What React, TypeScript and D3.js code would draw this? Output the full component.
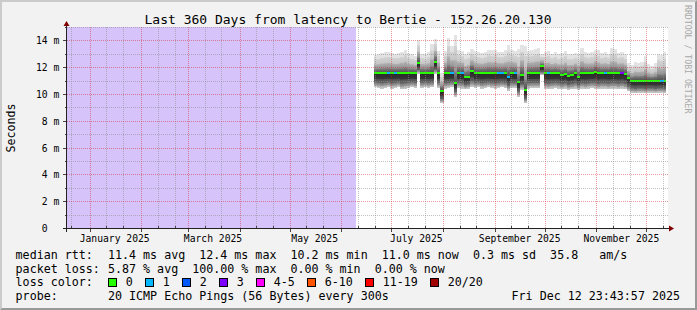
import React from 'react';
import * as d3 from 'd3';

// ---------- data ----------
const TITLE = 'Last 360 Days from latency to Bertie - 152.26.20.130';
const Y_LABEL = 'Seconds';
const WATERMARK = 'RRDTOOL / TOBI OETIKER';
const GRAPH_START = new Date(2024, 11, 17, 23, 43, 57);
const GRAPH_END = new Date(2025, 11, 12, 23, 43, 57);
const UNKNOWN_END = new Date(2025, 5, 9, 19, 0, 0);
const FIRST_SAMPLE = new Date(2025, 5, 20, 10, 0, 0);
const SAMPLE_DAYS = 2;

// median rtt (ms) per 2-day sample
const medianMs = [
  11.55, 11.55, 11.55, 11.55, 11.55, 11.55, 11.55, 11.55, 11.55, 11.55,
  11.55, 11.55, 11.55, 12.35, 11.55, 11.55, 11.55, 11.55, 12.4, 11.55,
  10.25, 11.55, 11.55, 11.55, 10.8, 11.55, 11.55, 11.25, 11.3, 11.75,
  11.55, 11.55, 11.55, 11.55, 11.55, 11.55, 11.55, 11.55, 11.55, 11.55,
  11.3, 11.55, 11.55, 10.86, 11.45, 10.3, 11.55, 11.55, 11.55, 11.55,
  12.06, 11.55, 11.55, 11.55, 11.55, 11.55, 11.45, 11.5, 11.38, 11.45,
  11.55, 11.3, 11.55, 11.55, 11.55, 11.55, 11.65, 11.55, 11.55, 11.55,
  11.55, 11.55, 11.55, 11.55, 11.55, 11.5, 11.2, 11.0, 11.0, 11.0,
  11.0, 11.0, 11.0, 11.0, 11.0, 11.0, 11.0, 11.0,
];
// slowest ping (ms) per sample
const maxMs = [
  12.9, 12.95, 13.05, 13.1, 13.15, 13.05, 13.0, 13.05, 13.15, 13.3,
  13.05, 12.95, 12.85, 14.0, 13.0, 12.95, 13.1, 13.75, 14.1, 13.2,
  11.6, 13.2, 14.15, 13.6, 14.4, 13.3, 13.2, 13.0, 13.1, 13.35,
  13.2, 13.1, 13.05, 13.15, 13.3, 13.25, 13.3, 13.15, 13.1, 13.25,
  13.65, 13.3, 13.2, 13.35, 13.65, 13.6, 13.2, 13.25, 13.35, 13.4,
  13.0, 13.1, 13.2, 13.0, 13.1, 12.95, 13.05, 13.2, 13.0, 12.95,
  13.05, 13.0, 13.4, 13.1, 13.05, 13.1, 13.3, 13.25, 13.05, 13.1,
  13.0, 13.4, 13.35, 13.05, 13.1, 12.95, 12.3, 12.2, 12.4, 12.35,
  12.4, 12.8, 12.25, 12.1, 12.3, 13.0, 12.9, 13.1,
];
// fastest ping (ms) per sample
const minMs = [
  10.5, 10.45, 10.4, 10.45, 10.5, 10.4, 10.45, 10.5, 10.35, 10.4,
  10.45, 10.5, 10.45, 11.5, 10.45, 10.5, 10.45, 10.5, 11.5, 10.45,
  9.3, 10.4, 10.45, 10.5, 9.8, 10.45, 10.4, 10.35, 10.4, 10.5,
  10.45, 10.5, 10.4, 10.45, 10.5, 10.45, 10.4, 10.45, 10.5, 10.45,
  10.25, 10.45, 10.45, 9.8, 10.3, 9.3, 10.4, 10.45, 10.45, 10.45,
  11.4, 10.4, 10.35, 10.4, 10.45, 10.4, 10.35, 10.4, 10.3, 10.35,
  10.4, 10.3, 10.4, 10.35, 10.4, 10.45, 10.4, 10.35, 10.4, 10.4,
  10.35, 10.4, 10.4, 10.35, 10.4, 10.35, 10.2, 10.1, 10.05, 10.1,
  10.1, 10.05, 10.1, 10.1, 10.05, 10.1, 10.1, 10.05,
];
// lost pings (of 20) per sample
const lostPings = [
  0, 0, 0, 0, 1, 0, 1, 0, 0, 0,
  0, 0, 0, 0, 0, 0, 0, 0, 0, 0,
  0, 0, 0, 1, 0, 0, 1, 0, 0, 0,
  0, 0, 0, 0, 0, 0, 0, 1, 1, 0,
  1, 0, 1, 0, 0, 0, 0, 0, 0, 0,
  0, 0, 1, 0, 0, 0, 0, 0, 0, 0,
  0, 0, 0, 0, 0, 0, 0, 0, 0, 1,
  0, 0, 0, 0, 3, 0, 0, 0, 0, 0,
  0, 0, 0, 0, 0, 0, 1, 0,
];

const yMajorTicks = [0, 2, 4, 6, 8, 10, 12, 14];
const yMinorTicks = [1, 3, 5, 7, 9, 11, 13, 15];
const xLabelMonths = [new Date(2025, 0, 1), new Date(2025, 2, 1), new Date(2025, 4, 1), new Date(2025, 6, 1), new Date(2025, 8, 1), new Date(2025, 10, 1)];
const xLabelTexts = ['January 2025', 'March 2025', 'May 2025', 'July 2025', 'September 2025', 'November 2025'];

const lossLabels = ['0', '1', '2', '3', '4-5', '6-10', '11-19', '20/20'];
const lossUpper = [0, 1, 2, 3, 5, 10, 19, 20];
const lossColors = ['#26ff00', '#00b8ff', '#0059ff', '#7e00ff', '#ff00ff', '#ff5500', '#ff0000', '#a10000'];

const rttLine = '11.4 ms avg  12.4 ms max  10.2 ms min  11.0 ms now  0.3 ms sd  35.8   am/s';
const lossLine = '5.87 % avg  100.00 % max  0.00 % min  0.00 % now';
const probeLine = '20 ICMP Echo Pings (56 Bytes) every 300s';
const dateLine = 'Fri Dec 12 23:43:57 2025';

// ---------- chart ----------
const FONT = "'DejaVu Sans Mono', monospace";
const PRE = { whiteSpace: 'pre' as const };

function lossColor(l: number) {
  const k = lossUpper.findIndex((u) => l <= u);
  return lossColors[k < 0 ? lossColors.length - 1 : k];
}

function T(props: any) {
  return <text xmlSpace="preserve" style={PRE} {...props} />;
}

export default function App() {
  const W = 697;
  const H = 310;
  const x = d3.scaleTime().domain([GRAPH_START, GRAPH_END]).range([66.3, 666.3]);
  const y = d3.scaleLinear().domain([0, 15]).range([228, 27]);
  const cx0 = 67;
  const cx1 = 668;
  const cy0 = 27;
  const cy1 = 228;

  const samples = medianMs.map((m, i) => {
    const t0 = d3.timeDay.offset(FIRST_SAMPLE, i * SAMPLE_DAYS);
    let t1 = d3.timeDay.offset(FIRST_SAMPLE, (i + 1) * SAMPLE_DAYS);
    if (t1 > GRAPH_END) t1 = GRAPH_END;
    return { t0, t1, med: m, hi: maxMs[i], lo: minMs[i], loss: lostPings[i] };
  });

  const days = d3.timeDay.range(d3.timeDay.ceil(GRAPH_START), GRAPH_END);
  const vMajor = days.filter((d) => d.getDate() === 1);
  const vMinor = days.filter((d) => d.getDate() === 11 || d.getDate() === 21);
  const px = (t: Date) => Math.round(x(t)) + 0.5;
  const py = (v: number) => Math.round(y(v)) + 0.5;

  const minorGrid = 'rgba(140,140,140,0.55)';
  const majorGrid = 'rgba(208,32,32,0.45)';

  const boxXs: number[] = [];
  let bx = 108;
  lossLabels.forEach((l) => {
    boxXs.push(bx);
    bx += 30 + 7 * l.length;
  });

  return (
    <svg width={W} height={H} style={{ position: 'fixed', left: 0, top: 0 }} xmlns="http://www.w3.org/2000/svg">
      <defs>
        <linearGradient id="smokeUp" x1="0" y1="0" x2="0" y2="1">
          <stop offset="0" stopColor="#e4e4e4" />
          <stop offset="0.22" stopColor="#e1e1e1" />
          <stop offset="0.24" stopColor="#d2d2d2" />
          <stop offset="0.5" stopColor="#c6c6c6" />
          <stop offset="0.55" stopColor="#adadad" />
          <stop offset="0.74" stopColor="#959595" />
          <stop offset="0.8" stopColor="#777777" />
          <stop offset="1" stopColor="#4e4e4e" />
        </linearGradient>
        <linearGradient id="smokeDown" x1="0" y1="0" x2="0" y2="1">
          <stop offset="0" stopColor="#2a2a2a" />
          <stop offset="0.36" stopColor="#363636" />
          <stop offset="0.42" stopColor="#525252" />
          <stop offset="0.62" stopColor="#626262" />
          <stop offset="0.68" stopColor="#808080" />
          <stop offset="0.82" stopColor="#989898" />
          <stop offset="0.86" stopColor="#b4b4b4" />
          <stop offset="1" stopColor="#c8c8c8" />
        </linearGradient>
      </defs>

      {/* background + frame */}
      <rect x={0} y={0} width={W} height={H} fill="#f2f2f2" />
      <polygon points={`0,0 ${W},0 ${W - 2},2 2,2 2,${H - 2} 0,${H}`} fill="#cbcbcb" />
      <polygon points={`${W},0 ${W},${H} 0,${H} 2,${H - 2} ${W - 2},${H - 2} ${W - 2},2`} fill="#999999" />

      {/* canvas */}
      <rect x={cx0} y={cy0} width={cx1 - cx0} height={cy1 - cy0 + 1} fill="#ffffff" />
      <rect x={cx0} y={cy0} width={x(UNKNOWN_END) - cx0} height={cy1 - cy0 + 1} fill="#d5c3fa" />

      {/* smoke */}
      <g shapeRendering="crispEdges">
        {samples.map((s, i) => (
          <g key={i}>
            <rect x={x(s.t0)} width={x(s.t1) - x(s.t0)} y={y(s.hi)} height={y(s.med) - y(s.hi)} fill="url(#smokeUp)" />
            <rect x={x(s.t0)} width={x(s.t1) - x(s.t0)} y={y(s.med)} height={y(s.lo) - y(s.med)} fill="url(#smokeDown)" />
          </g>
        ))}
        {samples.map((s, i) => (
          <rect key={'m' + i} x={x(s.t0)} width={x(s.t1) - x(s.t0)} y={y(s.med) - 1} height={2} fill={lossColor(s.loss)} />
        ))}
      </g>

      {/* grid */}
      <g strokeWidth={1} strokeDasharray="1 1">
        {yMinorTicks.map((v) => (
          <line key={'hy' + v} x1={cx0} x2={cx1} y1={py(v)} y2={py(v)} stroke={minorGrid} />
        ))}
        {vMinor.map((d, i) => (
          <line key={'vx' + i} x1={px(d)} x2={px(d)} y1={cy0} y2={cy1} stroke={minorGrid} />
        ))}
        {yMajorTicks.filter((v) => v > 0).map((v) => (
          <line key={'HY' + v} x1={cx0} x2={cx1} y1={py(v)} y2={py(v)} stroke={majorGrid} />
        ))}
        {vMajor.map((d, i) => (
          <line key={'VX' + i} x1={px(d)} x2={px(d)} y1={cy0} y2={cy1} stroke={majorGrid} />
        ))}
      </g>

      {/* ticks */}
      <g stroke="#444" strokeWidth={1}>
        {yMajorTicks.map((v) => (
          <line key={'ty' + v} x1={63} x2={67} y1={py(v)} y2={py(v)} />
        ))}
        {yMinorTicks.map((v) => (
          <line key={'tym' + v} x1={65} x2={67} y1={py(v)} y2={py(v)} />
        ))}
        {vMajor.map((d, i) => (
          <line key={'tx' + i} x1={px(d)} x2={px(d)} y1={228} y2={232} />
        ))}
        {vMinor.map((d, i) => (
          <line key={'txm' + i} x1={px(d)} x2={px(d)} y1={226} y2={228} />
        ))}
      </g>

      {/* axes */}
      <line x1={63} x2={670} y1={228.5} y2={228.5} stroke="#222" strokeWidth={1} />
      <line x1={66.5} x2={66.5} y1={232} y2={25} stroke="#222" strokeWidth={1} />
      <polygon points="669,225.5 674,228.5 669,231.5" fill="#800000" />
      <polygon points="63.5,26 66.5,21 69.5,26" fill="#800000" />

      {/* axis labels */}
      <g fontFamily={FONT} fontSize={9.7} fill="#000">
        {yMajorTicks.map((v) => (
          <T key={'ly' + v} x={36} y={py(v) + 3.5}>
            {v === 0 ? ' 0' : `${String(v).padStart(2, ' ')} m`}
          </T>
        ))}
        {xLabelMonths.map((d, i) => (
          <text key={'lx' + i} x={x(d3.timeDay.offset(d, 15))} y={241.5} textAnchor="middle">
            {xLabelTexts[i]}
          </text>
        ))}
      </g>

      {/* title & axis title */}
      <text x={348} y={23.5} textAnchor="middle" fontFamily={FONT} fontSize={13} fill="#000">{TITLE}</text>
      <text transform="translate(14.5,128) rotate(-90)" textAnchor="middle" fontFamily={FONT} fontSize={11.6} fill="#000">{Y_LABEL}</text>
      <text transform="translate(685,5) rotate(90)" textAnchor="start" fontFamily={FONT} fontSize={8.2} fill="#a8a8a8">{WATERMARK}</text>

      {/* legend */}
      <g fontFamily={FONT} fontSize={11.67} fill="#000">
        <T x={15.6} y={258.5}>median rtt:</T>
        <T x={108} y={258.5}>{rttLine}</T>
        <T x={15.6} y={272.5}>packet loss:</T>
        <T x={108} y={272.5}>{lossLine}</T>
        <T x={15.6} y={286.3}>loss color:</T>
        {lossLabels.map((l, i) => (
          <g key={'lg' + i}>
            <rect x={boxXs[i] + 0.5} y={278.5} width={8} height={8} fill={lossColors[i]} stroke="#000" strokeWidth={1} />
            <T x={boxXs[i] + 17.8} y={286.3}>{l}</T>
          </g>
        ))}
        <T x={15.6} y={300.2}>probe:</T>
        <T x={108} y={300.2}>{probeLine}</T>
        <T x={680} y={300.2} textAnchor="end">{dateLine}</T>
      </g>
    </svg>
  );
}
